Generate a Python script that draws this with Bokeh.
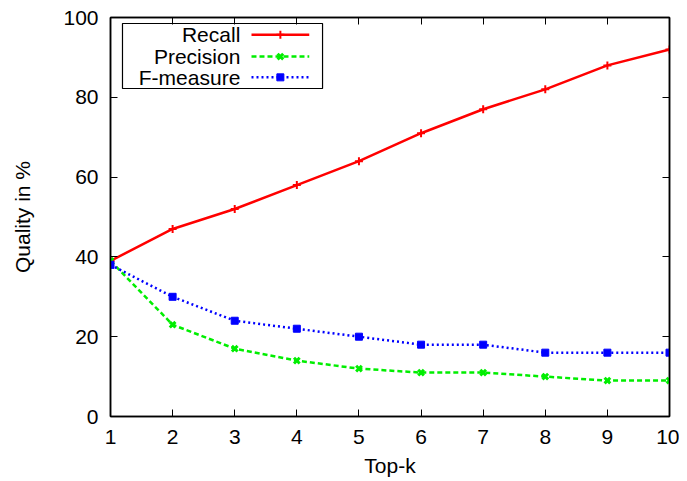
from bokeh.plotting import figure
from bokeh.models import Range1d, LinearAxis, FixedTicker, Label
from bokeh.embed import file_html
from bokeh.resources import INLINE

topk = [1, 2, 3, 4, 5, 6, 7, 8, 9, 10]
recall = [39, 47, 52, 58, 64, 71, 77, 82, 88, 92]
precision = [39, 23, 17, 14, 12, 11, 11, 10, 9, 9]
fmeasure = [38, 30, 24, 22, 20, 18, 18, 16, 16, 16]
series_names = ["Recall", "Precision", "F-measure"]
x_ticks = [1, 2, 3, 4, 5, 6, 7, 8, 9, 10]
y_ticks = [0, 20, 40, 60, 80, 100]

FONT = "Liberation Sans"
FS = "21px"

p = figure(width=679, height=479, output_backend="svg", toolbar_location=None,
           x_range=Range1d(1, 10), y_range=Range1d(0, 100),
           min_border_left=110, min_border_right=10, min_border_top=17, min_border_bottom=63)
p.background_fill_color = "white"
p.border_fill_color = "white"
p.outline_line_color = "black"
p.outline_line_width = 1.5
p.xgrid.visible = False
p.ygrid.visible = False

for ax in (p.xaxis[0], p.yaxis[0]):
    ax.major_tick_in = 7
    ax.major_tick_out = 0
    ax.minor_tick_in = 0
    ax.minor_tick_out = 0
    ax.axis_line_width = 1.5
    ax.major_tick_line_width = 1
    ax.major_label_text_font = FONT
    ax.major_label_text_font_size = FS
    ax.major_label_text_color = "black"
    ax.axis_label_text_font = FONT
    ax.axis_label_text_font_size = FS
    ax.axis_label_text_font_style = "normal"
    ax.axis_label_text_color = "black"

p.xaxis[0].ticker = FixedTicker(ticks=x_ticks)
p.yaxis[0].ticker = FixedTicker(ticks=y_ticks)
p.xaxis[0].axis_label = "Top-k"
p.yaxis[0].axis_label = "Quality in %"
p.xaxis[0].major_label_standoff = 13
p.yaxis[0].major_label_standoff = 12
p.xaxis[0].axis_label_standoff = 7
p.yaxis[0].axis_label_standoff = 26

top_ax = LinearAxis(ticker=FixedTicker(ticks=x_ticks), major_tick_in=7, major_tick_out=0,
                    minor_tick_in=0, minor_tick_out=0,
                    major_label_overrides={t: "" for t in x_ticks},
                    axis_line_width=1.5)
right_ax = LinearAxis(ticker=FixedTicker(ticks=y_ticks), major_tick_in=7, major_tick_out=0,
                      minor_tick_in=0, minor_tick_out=0,
                      major_label_overrides={t: "" for t in y_ticks},
                      axis_line_width=1.5)
p.add_layout(top_ax, "above")
p.add_layout(right_ax, "right")

RED, GREEN, BLUE = "#ff0000", "#00ee00", "#0000ff"

p.line(topk, recall, line_color=RED, line_width=2.5)
p.scatter(topk, recall, marker="cross", size=8, line_color=RED, line_width=2)
p.line(topk, precision, line_color=GREEN, line_width=2.5, line_dash="5 3")
p.scatter(topk, precision, marker="x", size=8, line_color=GREEN, line_width=3)
p.line(topk, fmeasure, line_color=BLUE, line_width=2.5, line_dash="2 3")
p.scatter(topk, fmeasure, marker="square", size=7, fill_color=BLUE, line_color=BLUE)

# manual gnuplot-style legend (text right, sample left)
p.quad(left=[1.193], right=[4.414], bottom=[82.2], top=[98.5],
       fill_color="white", line_color="black", line_width=1.2)
rows_y = [95.7, 90.2, 85.0]
styles = [(RED, "solid", "cross", 2), (GREEN, "5 3", "x", 3), (BLUE, "2 3", "square", 1)]
for name, yy, (col, dash, mk, mlw) in zip(series_names, rows_y, styles):
    p.add_layout(Label(x=3.09, y=yy, text=name, text_align="right", text_baseline="middle",
                       text_font=FONT, text_font_size=FS, text_color="black"))
    p.line([3.27, 4.20], [yy, yy], line_color=col, line_width=2.5, line_dash=dash)
    if mk == "square":
        p.scatter([3.735], [yy], marker=mk, size=7, fill_color=col, line_color=col)
    else:
        p.scatter([3.735], [yy], marker=mk, size=8, line_color=col, line_width=mlw)

open("out.html", "w").write(file_html(p, INLINE))
